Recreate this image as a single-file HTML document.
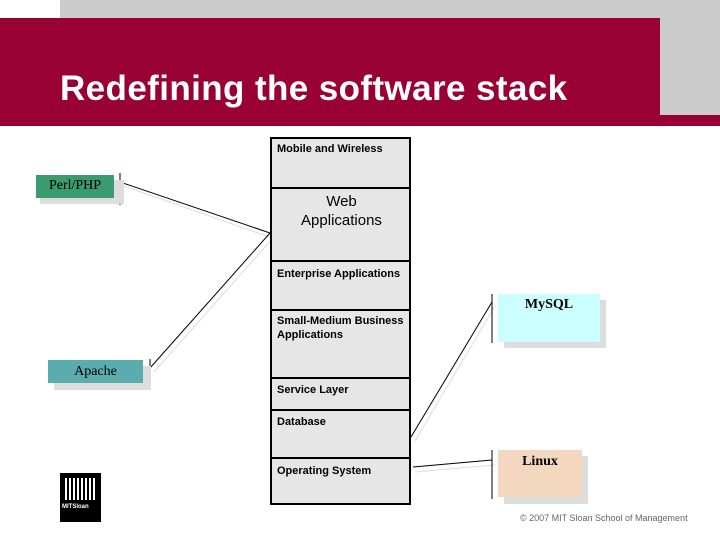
<!DOCTYPE html>
<html><head><style>
body{margin:0;width:720px;height:540px;position:relative;background:#fff;font-family:"Liberation Sans",sans-serif;overflow:hidden}
.a{position:absolute}
.cell{position:absolute;left:0;width:139px;border-top:2px solid #000;font-size:11px;font-weight:bold;padding:3px 0 0 5px;box-sizing:border-box;line-height:14px}
.box{position:absolute;font-family:"Liberation Serif",serif;font-size:14px;text-align:center}
</style></head><body>
<div class="a" style="left:60px;top:0;width:660px;height:20px;background:#cccccc"></div>
<div class="a" style="left:660px;top:0;width:60px;height:126px;background:#cccccc"></div>
<div class="a" style="left:0;top:18px;width:660px;height:108px;background:#990033"></div>
<div class="a" style="left:0;top:115px;width:720px;height:11px;background:#990033"></div>
<div class="a" style="left:60px;top:69px;color:#fff;font-size:35px;font-weight:bold;letter-spacing:0.4px">Redefining the software stack</div>

<svg class="a" style="left:0;top:0" width="720" height="540">
<g stroke="#ddd" stroke-width="1" fill="none">
<line x1="124" y1="186" x2="272" y2="238"/><line x1="154" y1="372" x2="273" y2="238"/>
<line x1="495" y1="306" x2="415" y2="441"/><line x1="495" y1="465" x2="415" y2="472"/>
</g>
<g stroke="#000" stroke-width="1" fill="none">
<line x1="120" y1="182" x2="270" y2="233"/><line x1="150" y1="368" x2="270" y2="233"/>
<line x1="492" y1="302" x2="411" y2="437"/><line x1="492" y1="460" x2="413" y2="467"/>
<line x1="120" y1="173" x2="120" y2="205"/><line x1="150" y1="359" x2="150" y2="390"/>
<line x1="492" y1="294" x2="492" y2="343"/><line x1="492" y1="450" x2="492" y2="499"/>
</g>
</svg>

<div class="a" style="left:270px;top:137px;width:141px;height:368px;background:#e6e6e6;border:2px solid #000;box-sizing:border-box">
<div class="cell" style="top:-2px;height:52px;border-top:none;padding-top:5px">Mobile and Wireless</div>
<div class="cell" style="top:48px;height:73px;font-size:15px;font-weight:normal;text-align:center;line-height:19px;padding:3px 0 0">Web<br>Applications</div>
<div class="cell" style="top:121px;height:48px;padding-top:5px">Enterprise Applications</div>
<div class="cell" style="top:170px;height:70px">Small-Medium Business Applications</div>
<div class="cell" style="top:238px;height:32px;padding-top:4px">Service Layer</div>
<div class="cell" style="top:270px;height:47px;padding-top:4px">Database</div>
<div class="cell" style="top:318px;height:48px;padding-top:5px">Operating System</div>
</div>

<div class="a" style="left:40px;top:180px;width:84px;height:24px;background:#ddd"></div>
<div class="box" style="left:36px;top:175px;width:78px;height:23px;background:#3a9a70;line-height:22px">Perl/PHP</div>
<div class="a" style="left:54px;top:366px;width:97px;height:24px;background:#ddd"></div>
<div class="box" style="left:48px;top:360px;width:95px;height:23px;background:#5aacae;line-height:24px">Apache</div>
<div class="a" style="left:504px;top:300px;width:102px;height:48px;background:#ddd"></div>
<div class="box" style="left:498px;top:294px;width:102px;height:48px;background:#ccffff;line-height:22px;font-weight:bold">MySQL</div>
<div class="a" style="left:504px;top:456px;width:84px;height:48px;background:#ddd"></div>
<div class="box" style="left:498px;top:450px;width:84px;height:47px;background:#f3d8bf;line-height:24px;font-weight:bold">Linux</div>

<div class="a" style="left:60px;top:473px;width:41px;height:49px;background:#000"></div>
<div class="a" style="left:65px;top:478px;width:31px;height:22px;background:repeating-linear-gradient(90deg,#fff 0 2px,#000 2px 4px)"></div>
<div class="a" style="left:62px;top:504px;color:#fff;font-size:6px;font-weight:bold">MITSloan</div>
<div class="a" style="left:520px;top:513px;color:#666;font-size:9px">© 2007 MIT Sloan School of Management</div>
</body></html>
